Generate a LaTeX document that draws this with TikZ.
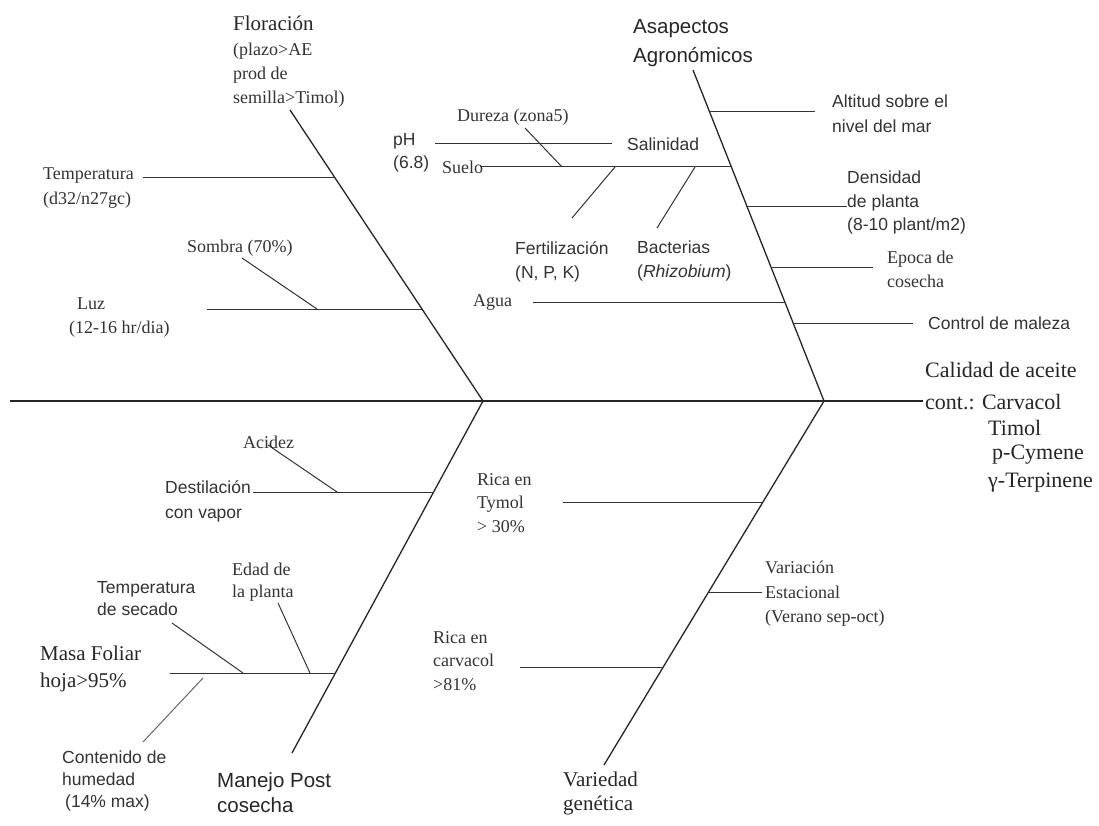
\documentclass[tikz,border=0pt]{standalone}
\usepackage{fontspec}
\setmainfont{Liberation Serif}
\setsansfont{Liberation Sans}
\begin{document}
\begin{tikzpicture}[x=1pt,y=-1pt,
  bone/.style={line width=1.3pt,draw=black!85},
  twig/.style={line width=1pt,draw=black!80},
  sr/.style={font=\fontsize{18}{#1}\selectfont\rmfamily,text=black!80,inner sep=0pt,align=left},
  sr/.default=24,
  ss/.style={font=\fontsize{17.5}{#1}\selectfont\sffamily,text=black!80,inner sep=0pt,align=left},
  ss/.default=24,
  br/.style={font=\fontsize{21}{#1}\selectfont\rmfamily,text=black!85,inner sep=0pt,align=left},
  br/.default=26,
  bs/.style={font=\fontsize{20.5}{#1}\selectfont\sffamily,text=black!85,inner sep=0pt,align=left},
  bs/.default=26,
  eff/.style={font=\fontsize{22}{26}\selectfont\rmfamily,text=black!85,inner sep=0pt,anchor=west}]
\fill[white] (0,0) rectangle (1099,826);
\useasboundingbox (0,0) rectangle (1099,826);

% main skeleton
\coordinate (tail) at (10,401);
\coordinate (jL) at (483,401);
\coordinate (jR) at (824,401);
\coordinate (head) at (923,401);
\coordinate (ulTop) at (290,110);
\coordinate (urTop) at (693,70);
\coordinate (llBot) at (292,753);
\coordinate (lrBot) at (604,765);

% junctions on bones
\coordinate (ulT) at (335,178);
\coordinate (ulL) at (422,309);
\coordinate (urA) at (710,112);
\coordinate (urS) at (731,167);
\coordinate (urD) at (747,207);
\coordinate (urE) at (771,267);
\coordinate (urW) at (785,302);
\coordinate (urC) at (793,323);
\coordinate (llD) at (434,492);
\coordinate (llM) at (335,673);
\coordinate (lrT) at (763,502);
\coordinate (lrV) at (709,592);
\coordinate (lrC) at (663,667);

% twig ends
\coordinate (tA) at (143,178);
\coordinate (lA) at (207,309);
\coordinate (sA) at (242,258);
\coordinate (sB) at (317,309);
\coordinate (pA) at (435,144);
\coordinate (pB) at (612,144);
\coordinate (dA) at (525,128);
\coordinate (dB) at (562,167);
\coordinate (suA) at (480,167);
\coordinate (fA) at (572,218);
\coordinate (fB) at (615,167);
\coordinate (bA) at (657,228);
\coordinate (bB) at (695,167);
\coordinate (aA) at (533,302);
\coordinate (alB) at (815,112);
\coordinate (deB) at (847,207);
\coordinate (epB) at (873,267);
\coordinate (coB2) at (913,323);
\coordinate (acA) at (268,445);
\coordinate (acB) at (337,492);
\coordinate (dsA) at (253,492);
\coordinate (mA) at (170,673);
\coordinate (tsA) at (172,623);
\coordinate (tsB) at (243,673);
\coordinate (edA) at (278,603);
\coordinate (edB) at (310,673);
\coordinate (chA) at (143,742);
\coordinate (chB) at (203,678);
\coordinate (tyA) at (563,502);
\coordinate (vaB) at (762,592);
\coordinate (caA) at (520,667);

% bones
\draw[bone] (tail) -- (jL) -- (jR) -- (head);
\draw[bone] (ulTop) -- (jL);
\draw[bone] (urTop) -- (jR);
\draw[bone] (jL) -- (llBot);
\draw[bone] (jR) -- (lrBot);

% upper-left twigs
\draw[twig] (tA) -- (ulT);
\draw[twig] (lA) -- (ulL);
\draw[twig] (sA) -- (sB);

% upper-right twigs
\draw[twig] (pA) -- (pB);
\draw[twig] (dA) -- (dB);
\draw[twig] (suA) -- (urS);
\draw[twig] (fA) -- (fB);
\draw[twig] (bA) -- (bB);
\draw[twig] (aA) -- (urW);
\draw[twig] (urA) -- (alB);
\draw[twig] (urD) -- (deB);
\draw[twig] (urE) -- (epB);
\draw[twig] (urC) -- (coB2);

% lower-left twigs
\draw[twig] (dsA) -- (llD);
\draw[twig] (acA) -- (acB);
\draw[twig] (mA) -- (llM);
\draw[twig] (tsA) -- (tsB);
\draw[twig] (edA) -- (edB);
\draw[twig,draw=black!60] (chA) -- (chB);

% lower-right twigs
\draw[twig] (tyA) -- (lrT);
\draw[twig] (lrV) -- (vaB);
\draw[twig] (caA) -- (lrC);

% labels upper-left
\node[br,anchor=west] (flor) at (233,23) {Floración};
\node[sr=24,anchor=north west] (florsub) at (233,43) {(plazo>AE\\prod de\\semilla>Timol)};
\node[sr=25,anchor=north west] (temp) at (43,168) {Temperatura\\(d32/n27gc)};
\node[sr,anchor=west] (sombra) at (187,248) {Sombra (70\%)};
\node[sr=24,anchor=north west] (luz) at (69,298) {\hspace*{8pt}Luz\\(12-16 hr/dia)};

% labels upper-right
\node[ss=23,anchor=north west] (ph) at (393,133) {pH\\(6.8)};
\node[sr,anchor=west] (dureza) at (457,117) {Dureza (zona5)};
\node[ss,anchor=west] (salin) at (627,144) {Salinidad};
\node[sr,anchor=west] (suelo) at (442,167) {Suelo};
\node[ss=24,anchor=north west] (fert) at (515,241) {Fertilización\\(N, P, K)};
\node[ss=24,anchor=north west] (bact) at (637,241) {Bacterias\\(\textit{Rhizobium})};
\node[sr,anchor=west] (agua) at (473,302) {Agua};
\node[bs=29,anchor=north west] (asap) at (633,19) {Asapectos\\Agronómicos};
\node[ss=25,anchor=north west] (alt) at (832,95) {Altitud sobre el\\nivel del mar};
\node[ss=23.5,anchor=north west] (dens) at (847,171) {Densidad\\de planta\\(8-10 plant/m2)};
\node[sr=24,anchor=north west] (epoca) at (887,251) {Epoca de\\cosecha};
\node[ss,anchor=west] (control) at (928,323) {Control de maleza};

% effect
\node[eff] (cal1) at (925,370) {Calidad de aceite};
\node[eff] (cal2) at (925,402) {cont.: Carvacol};
\node[eff] (cal3) at (988,428) {Timol};
\node[eff] (cal4) at (992,455) {p-Cymene};
\node[eff] (cal5) at (988,483) {γ-Terpinene};

% labels lower-left
\node[sr,anchor=west] (acidez) at (243,442) {Acidez};
\node[ss=25,anchor=north west] (destil) at (165,480) {Destilación\\con vapor};
\node[ss=22,anchor=north west] (tsec) at (97,581) {Temperatura\\de secado};
\node[sr=22,anchor=north west] (edad) at (232,563) {Edad de\\la planta};
\node[br=27,anchor=north west] (masa) at (40,646) {Masa Foliar\\hoja>95\%};
\node[ss=22,anchor=north west] (conth) at (62,751) {Contenido de\\humedad\\\hspace*{3pt}(14\% max)};
\node[bs=25,anchor=north west] (manejo) at (217,772) {Manejo Post\\cosecha};

% labels lower-right
\node[sr=23.5,anchor=north west] (tymol) at (477,473) {Rica en\\Tymol\\> 30\%};
\node[sr=24.5,anchor=north west] (variac) at (765,561) {Variación\\Estacional\\(Verano sep-oct)};
\node[sr=23.5,anchor=north west] (carv) at (433,631) {Rica en\\carvacol\\>81\%};
\node[br=24,anchor=north west] (varied) at (563,772) {Variedad\\genética};
\end{tikzpicture}
\end{document}
